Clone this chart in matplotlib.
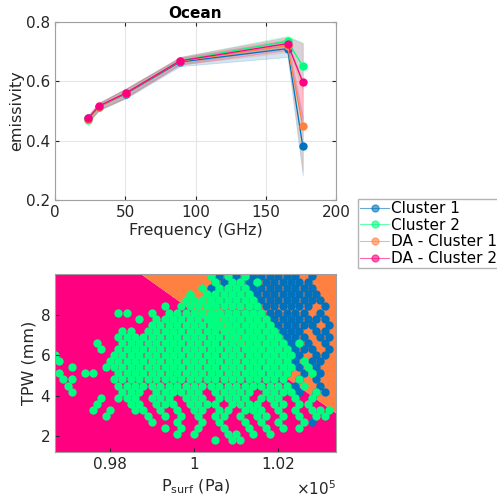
import numpy as np
import matplotlib
matplotlib.use("Agg")
import matplotlib.pyplot as plt
from matplotlib.ticker import FuncFormatter

# ---- top panel: mean emissivity per channel ----
freq = [23.8, 31.4, 50.3, 89.0, 165.5, 176.3]
c1_mean = [0.475, 0.515, 0.558, 0.665, 0.710, 0.382]
c2_mean = [0.470, 0.515, 0.560, 0.670, 0.735, 0.651]
da1_mean = [0.473, 0.515, 0.560, 0.668, 0.720, 0.450]
da2_mean = [0.476, 0.517, 0.560, 0.669, 0.727, 0.598]
c1_std = [0.010, 0.012, 0.016, 0.014, 0.028, 0.100]
c2_std = [0.010, 0.012, 0.015, 0.012, 0.018, 0.080]
da1_std = [0.010, 0.012, 0.015, 0.012, 0.022, 0.150]
da2_std = [0.012, 0.012, 0.015, 0.013, 0.022, 0.130]
labels = ["Cluster 1", "Cluster 2", "DA - Cluster 1", "DA - Cluster 2"]
colors = ["#0072BD", "#00FF80", "#FF8040", "#FF0080"]

# ---- bottom panel: TPW vs surface pressure (hPa), read row by row ----
tpw_rows = [9.9, 9.6, 9.3, 9.0, 8.7, 8.4, 8.1, 7.8, 7.5, 7.2, 6.9, 6.6, 6.3, 6.0,
            5.7, 5.4, 5.1, 4.8, 4.5, 4.2, 3.9, 3.6, 3.3, 3.0, 2.7, 2.4, 2.1, 1.8]
c1_psurf = [
    [1006, 1008, 1010, 1012, 1014, 1016, 1018, 1020, 1022, 1024, 1028],
    [1005, 1007, 1009, 1011, 1013, 1015, 1017, 1019, 1021, 1023, 1025, 1027],
    [1004, 1006, 1008, 1010, 1012, 1014, 1016, 1018, 1020, 1022, 1024, 1026, 1028],
    [1005, 1007, 1009, 1011, 1013, 1015, 1017, 1019, 1021, 1023, 1025, 1027, 1029],
    [1006, 1008, 1010, 1012, 1014, 1016, 1018, 1020, 1022, 1024, 1026, 1028, 1030],
    [1007, 1009, 1011, 1013, 1015, 1017, 1019, 1021, 1023, 1025, 1027, 1031],
    [1008, 1010, 1012, 1014, 1016, 1018, 1020, 1022, 1024, 1026, 1030],
    [1009, 1011, 1013, 1015, 1017, 1019, 1021, 1023, 1025, 1027, 1029, 1031],
    [1010, 1012, 1014, 1016, 1018, 1020, 1022, 1024, 1026, 1028, 1032],
    [1011, 1013, 1015, 1017, 1019, 1021, 1023, 1025, 1029, 1031],
    [1012, 1014, 1016, 1018, 1020, 1022, 1024, 1026, 1030, 1032],
    [1013, 1015, 1017, 1019, 1021, 1023, 1025, 1027, 1031],
    [1014, 1016, 1018, 1020, 1022, 1024, 1026, 1028, 1032],
    [1015, 1017, 1019, 1021, 1023, 1025, 1029, 1031],
    [1016, 1018, 1020, 1022, 1024, 1028, 1030],
    [1017, 1019, 1021, 1023, 1025, 1029],
    [1018, 1020, 1022, 1026, 1030],
    [1019, 1021, 1025, 1029],
    [1022, 1024, 1030],
    [1025, 1029, 1031],
    [1028],
    [], [], [],
    [1028],
    [], [], [],
]
c2_psurf = [
    [1004, 1008, 1012],
    [1005, 1009, 1011, 1015],
    [1002, 1006, 1008, 1010, 1012],
    [999, 1003, 1005, 1007, 1009, 1011, 1013],
    [998, 1000, 1002, 1004, 1006, 1008, 1010, 1012, 1014],
    [993, 997, 999, 1001, 1003, 1005, 1007, 1009, 1011, 1013, 1015],
    [982, 984, 990, 994, 996, 998, 1000, 1002, 1004, 1006, 1008, 1010, 1012, 1014, 1016],
    [987, 991, 993, 995, 997, 999, 1001, 1003, 1005, 1007, 1009, 1011, 1013, 1015, 1017],
    [990, 992, 994, 996, 998, 1000, 1002, 1004, 1006, 1008, 1010, 1012, 1014, 1016, 1018],
    [983, 985, 989, 991, 993, 995, 997, 999, 1001, 1003, 1005, 1007, 1009, 1011, 1013, 1015,
     1017, 1019],
    [982, 984, 986, 988, 990, 992, 994, 996, 998, 1000, 1002, 1004, 1006, 1008, 1010, 1012,
     1014, 1016, 1018, 1020],
    [977, 983, 985, 987, 989, 991, 993, 995, 997, 999, 1001, 1003, 1005, 1007, 1009, 1011,
     1013, 1015, 1017, 1019, 1021, 1025],
    [978, 982, 984, 986, 988, 990, 992, 994, 996, 998, 1000, 1002, 1004, 1006, 1008, 1010,
     1012, 1014, 1016, 1018, 1020, 1022],
    [967, 981, 983, 985, 987, 989, 991, 993, 995, 997, 999, 1001, 1003, 1005, 1007, 1009,
     1011, 1013, 1015, 1017, 1019, 1021, 1023],
    [968, 980, 982, 984, 986, 988, 990, 992, 994, 996, 998, 1000, 1002, 1004, 1006, 1008,
     1010, 1012, 1014, 1016, 1018, 1020, 1022, 1026],
    [971, 979, 981, 983, 985, 987, 989, 991, 993, 995, 997, 999, 1001, 1003, 1005, 1007,
     1009, 1011, 1013, 1015, 1017, 1019, 1021, 1023, 1027],
    [968, 974, 976, 982, 984, 986, 988, 990, 992, 994, 996, 998, 1000, 1002, 1004, 1006,
     1008, 1010, 1012, 1014, 1016, 1018, 1020, 1022, 1028],
    [969, 971, 981, 983, 985, 987, 989, 991, 993, 995, 997, 999, 1001, 1003, 1005, 1007,
     1009, 1011, 1013, 1015, 1017, 1019, 1021, 1025],
    [970, 982, 984, 986, 988, 990, 992, 994, 996, 998, 1000, 1002, 1004, 1006, 1008, 1010,
     1012, 1014, 1016, 1018, 1020, 1022, 1026],
    [971, 983, 985, 987, 991, 993, 995, 997, 999, 1001, 1005, 1007, 1009, 1011, 1013, 1017,
     1019, 1021, 1023, 1029],
    [978, 982, 984, 986, 990, 992, 994, 998, 1000, 1002, 1006, 1008, 1010, 1012, 1016, 1018,
     1020, 1024, 1028],
    [977, 985, 987, 991, 993, 995, 999, 1001, 1003, 1005, 1009, 1011, 1013, 1015, 1019, 1021,
     1025, 1027],
    [976, 980, 986, 988, 992, 996, 1000, 1002, 1006, 1008, 1012, 1014, 1016, 1020, 1024, 1028,
     1030, 1032],
    [979, 989, 993, 997, 1001, 1005, 1007, 1011, 1015, 1017, 1021, 1025, 1029, 1031],
    [990, 996, 1002, 1006, 1012, 1016, 1020, 1026],
    [993, 997, 1001, 1007, 1013, 1017, 1021, 1025],
    [996, 1000, 1008, 1010, 1014, 1018],
    [1005, 1009, 1011],
]

# class boundary of the discriminant analysis (hPa, mm)
bnd_psurf = [960, 1040]
bnd_tpw = [14.06, 2.21]

fig = plt.figure(figsize=(4.97, 5.03), dpi=100)
plt.rcParams['font.family'] = ['DejaVu Sans']
tick_col = '#262626'
frame_col = '#a0a0a0'

# ------------------ top panel ------------------
ax1 = fig.add_axes([0.1107, 0.6024, 0.5654, 0.354])
means = [c1_mean, c2_mean, da1_mean, da2_mean]
stds = [c1_std, c2_std, da1_std, da2_std]
for m, s, c in zip(means, stds, colors):
    m = np.array(m)
    s = np.array(s)
    ax1.fill_between(freq, m - s, m + s, color=c, alpha=0.18, lw=0.6, edgecolor=c)
handles = []
for m, c, lab in zip(means, colors, labels):
    h, = ax1.plot(freq, m, '-o', color=c, lw=0.9, ms=5, mec=c, label=lab)
    handles.append(h)
ax1.set_xlim(0, 200)
ax1.set_ylim(0.2, 0.8)
ax1.set_xticks([0, 50, 100, 150, 200])
ax1.set_yticks([0.2, 0.4, 0.6, 0.8])
ax1.grid(True, color='#e6e6e6', lw=0.8)
ax1.set_axisbelow(True)
ax1.set_title('Ocean', fontsize=11, fontweight='bold', pad=3)
ax1.set_xlabel('Frequency (GHz)', fontsize=11.5, color=tick_col, labelpad=2)
ax1.set_ylabel('emissivity', fontsize=11.5, color=tick_col, labelpad=1)
ax1.tick_params(direction='in', labelsize=11, colors=tick_col, length=3,
                top=True, right=True)
for sp in ax1.spines.values():
    sp.set_color(frame_col)

leg = fig.legend(handles=handles, loc='upper left', bbox_to_anchor=(0.7203, 0.6044),
                 fontsize=11, frameon=True, fancybox=False, edgecolor='#a0a0a0',
                 handlelength=1.9, handletextpad=0.1, labelspacing=0.1,
                 borderpad=0.15, borderaxespad=0)
for lh in leg.get_lines():
    lh.set_alpha(0.6)
    lh.set_linewidth(0.8)
    lh.set_markersize(5)

# ------------------ bottom panel ------------------
ax2 = fig.add_axes([0.1107, 0.1004, 0.5654, 0.3549])
xlo, xhi = 96700, 103370
ylo, yhi = 1.2, 10.0
bx = np.array(bnd_psurf) * 100
by = np.array(bnd_tpw)
ax2.fill_between(bx, ylo - 1, by, color='#FF0080', lw=0)
ax2.fill_between(bx, by, yhi + 1, color='#FF8040', lw=0)

for cl_rows, c in [(c1_psurf, '#0072BD'), (c2_psurf, '#00FF80')]:
    px = []
    py = []
    for t, row in zip(tpw_rows, cl_rows):
        px += [p * 100 for p in row]
        py += [t] * len(row)
    ax2.scatter(px, py, s=36, color=c, lw=0)

ax2.set_xlim(xlo, xhi)
ax2.set_ylim(ylo, yhi)
ax2.set_xticks([98000, 100000, 102000])
ax2.set_yticks([2, 4, 6, 8])
ax2.xaxis.set_major_formatter(FuncFormatter(lambda v, pos: f"{v / 1e5:g}"))
ax2.tick_params(direction='in', labelsize=11, colors=tick_col, length=3)
for sp in ax2.spines.values():
    sp.set_color(frame_col)
ax2.set_xlabel(r'P$_{\mathrm{surf}}$ (Pa)', fontsize=11.5, color=tick_col, labelpad=4)
ax2.set_ylabel('TPW (mm)', fontsize=11.5, color=tick_col, labelpad=3)
ax2.text(1.0, -0.15, r'$\times$10$^5$', transform=ax2.transAxes, ha='right', va='top',
         fontsize=11, color=tick_col)

fig.savefig('out.png', dpi=100)
